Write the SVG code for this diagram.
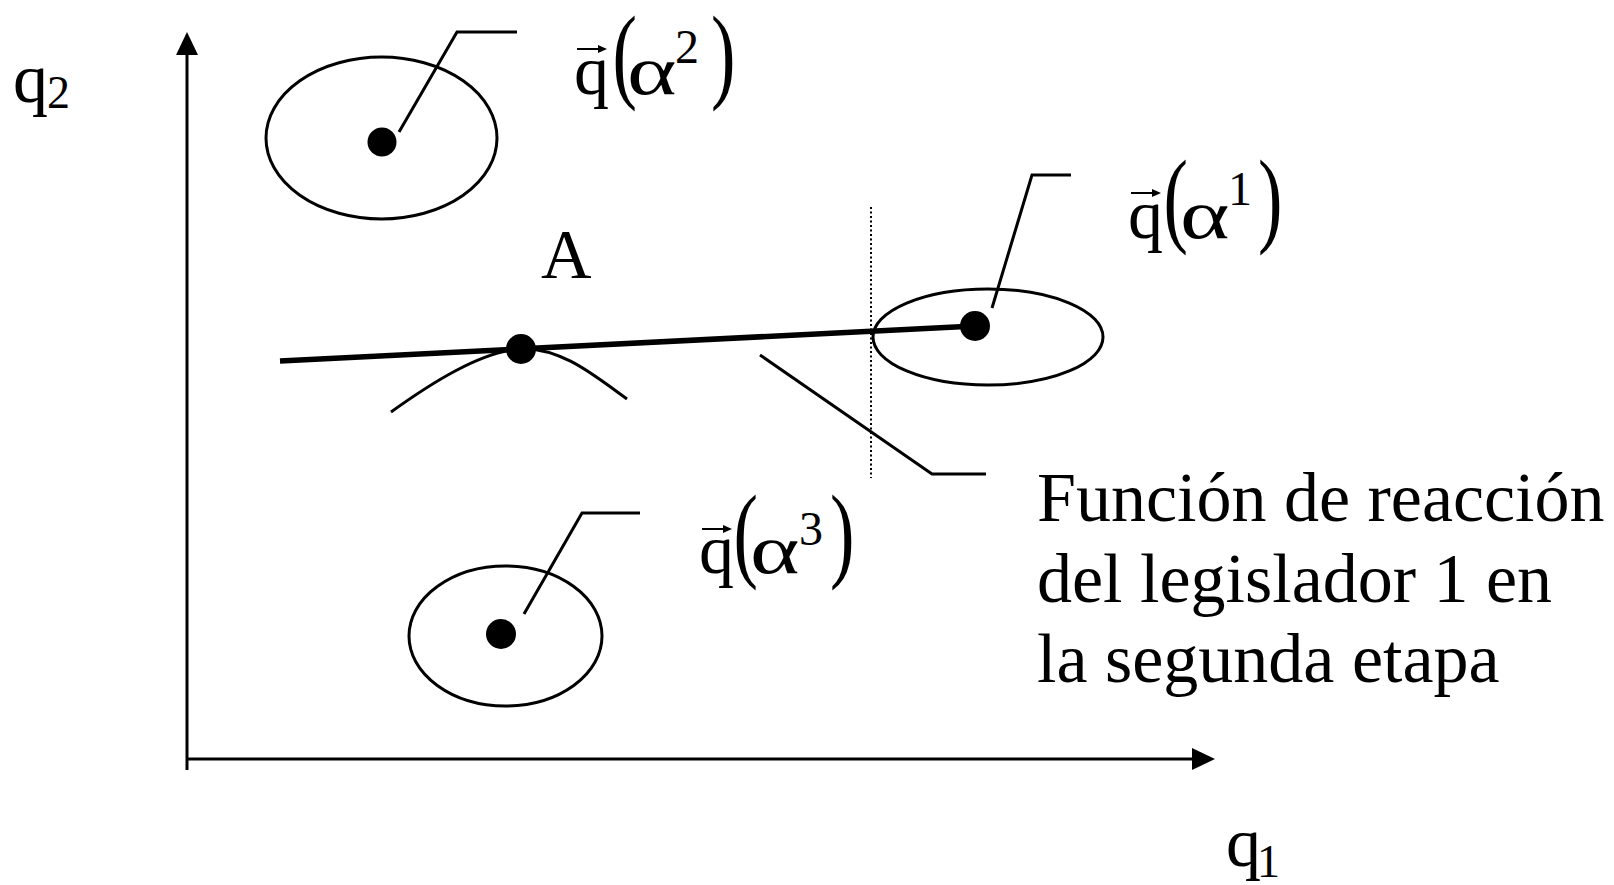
<svg xmlns="http://www.w3.org/2000/svg" width="1614" height="885" viewBox="0 0 1614 885">
<style>
 .t{font-family:"Liberation Serif","Times New Roman",serif;fill:#000}
 .m{font-size:70px}
 .s{font-size:48px}
 .sub{font-size:46px}
 .p{font-size:105px}
 .ln{fill:none;stroke:#000;stroke-width:3}
 .va{stroke:#000;stroke-width:2}
 .dot{fill:#000}
</style>
<rect width="1614" height="885" fill="#fff"/>
<g id="axes">
 <line x1="187" y1="52" x2="187" y2="770" class="ln"/>
 <polygon points="187,32 176,55 198,55"/>
 <line x1="187" y1="759" x2="1195" y2="759" class="ln"/>
 <polygon points="1215,759 1192,748 1192,770"/>
 <text class="t m" x="13" y="102">q</text><text class="t sub" x="47" y="108">2</text>
 <text class="t m" x="1226" y="866">q</text><text class="t sub" x="1257" y="877">1</text>
</g>
<g id="connectors">
 <line x1="280" y1="361" x2="975" y2="326" stroke="#000" stroke-width="5.5"/>
 <path class="ln" d="M391,412 C430,384 481,351 521,349 C561,347 595,376 627,399"/>
 <line x1="871" y1="207" x2="871" y2="478" stroke="#000" stroke-width="2" stroke-dasharray="2,2.5"/>
 <polyline class="ln" points="399,132 457,32 517,32"/>
 <polyline class="ln" points="992,308 1032,175 1071,175"/>
 <polyline class="ln" points="524,614 582,513 640,513"/>
 <polyline class="ln" points="760,355 932,474 986,474"/>
</g>
<g id="node-alpha2">
 <ellipse class="ln" cx="381.5" cy="138" rx="115.5" ry="81"/>
 <circle class="dot" cx="382" cy="142" r="14.5"/>
</g>
<g id="node-alpha1">
 <ellipse class="ln" cx="988" cy="337" rx="115" ry="48"/>
 <circle class="dot" cx="975" cy="326" r="15"/>
</g>
<g id="node-alpha3">
 <ellipse class="ln" cx="505.5" cy="636" rx="96.5" ry="70"/>
 <circle class="dot" cx="501" cy="634" r="15"/>
</g>
<g id="node-A">
 <circle class="dot" cx="521" cy="349" r="15"/>
 <text class="t m" x="541" y="278">A</text>
</g>
<g id="label-alpha2">
 <text class="t m" x="574" y="94">q</text>
 <line class="va" x1="577" y1="49" x2="601" y2="49"/>
 <polygon points="607,49 598,45 598,53"/>
 <text class="t p" transform="translate(612.5,89) scale(0.7,1)">(</text>
 <text class="t m" transform="translate(627,94) scale(1.35,1)">α</text>
 <text class="t s" x="675" y="63">2</text>
 <text class="t p" transform="translate(711,89) scale(0.7,1)">)</text>
</g>
<g id="label-alpha1">
 <text class="t m" x="1128" y="238">q</text>
 <line class="va" x1="1131" y1="193" x2="1155" y2="193"/>
 <polygon points="1161,193 1152,189 1152,197"/>
 <text class="t p" transform="translate(1163.5,233) scale(0.7,1)">(</text>
 <text class="t m" transform="translate(1180,238) scale(1.35,1)">α</text>
 <text class="t s" x="1228" y="205">1</text>
 <text class="t p" transform="translate(1258,233) scale(0.7,1)">)</text>
</g>
<g id="label-alpha3">
 <text class="t m" x="699" y="573">q</text>
 <line class="va" x1="702" y1="529" x2="726" y2="529"/>
 <polygon points="732,529 723,525 723,533"/>
 <text class="t p" transform="translate(733.5,568) scale(0.7,1)">(</text>
 <text class="t m" transform="translate(750,573) scale(1.35,1)">α</text>
 <text class="t s" x="799" y="545">3</text>
 <text class="t p" transform="translate(830,568) scale(0.7,1)">)</text>
</g>
<g id="label-reaction">
 <text class="t m" x="1037" y="521">Función de reacción</text>
 <text class="t m" x="1037" y="602">del legislador 1 en</text>
 <text class="t m" x="1037" y="682">la segunda etapa</text>
</g>
</svg>
